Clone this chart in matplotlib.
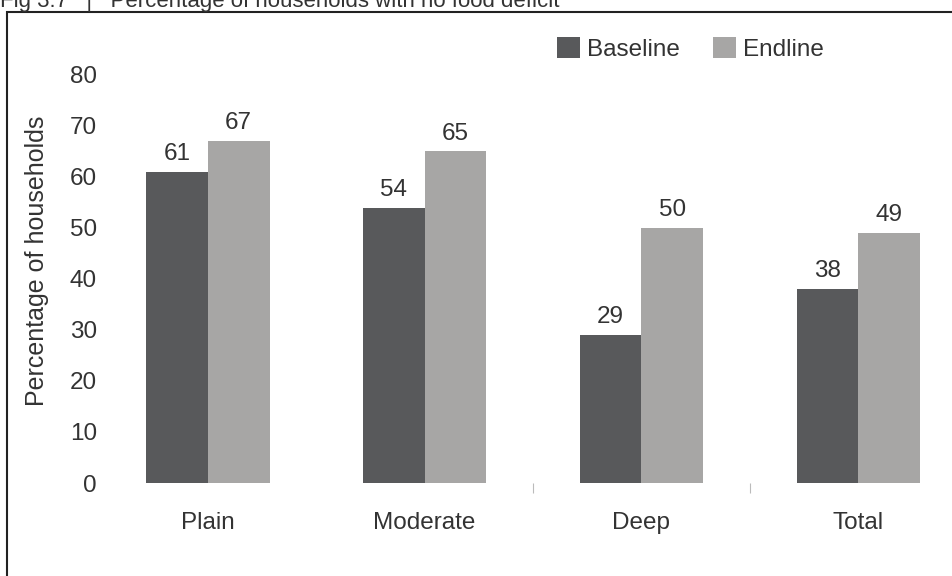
import numpy as np
import matplotlib.pyplot as plt
from matplotlib.patches import Rectangle

categories = ["Plain", "Moderate", "Deep", "Total"]
baseline = [61, 54, 29, 38]
endline = [67, 65, 50, 49]
yticks = [0, 10, 20, 30, 40, 50, 60, 70, 80]

plt.rcParams['font.family'] = ['Liberation Sans', 'DejaVu Sans']
text_color = '#333333'
c_base = '#58595b'
c_end = '#a7a6a5'
fs = 17.5

W, H = 952, 576
fig = plt.figure(figsize=(W/100, H/100), dpi=100)
ax = fig.add_axes([115/W, 1-483/H, (940-115)/W, (483-75)/H])

x = np.arange(len(categories))
bw = 0.284
b1 = ax.bar(x - bw/2, baseline, bw, color=c_base, label='Baseline')
b2 = ax.bar(x + bw/2, endline, bw, color=c_end, label='Endline')

for bars in (b1, b2):
    for r in bars:
        ax.annotate(f"{r.get_height():.0f}", (r.get_x() + r.get_width()/2, r.get_height()),
                    xytext=(0, 5), textcoords='offset points', ha='center', va='bottom',
                    fontsize=fs, color=text_color)

ax.set_xlim(-0.429, 3.378)
ax.set_ylim(0, 80)
ax.set_yticks(yticks)
ax.set_xticks(x)
ax.set_xticklabels(categories)
ax.set_xticks([1.5, 2.5], minor=True)
ax.tick_params(axis='x', which='major', length=0, pad=21, labelsize=fs, labelcolor=text_color)
ax.tick_params(axis='x', which='minor', length=7, width=0.8, color='#bbbbbb', direction='out')
ax.tick_params(axis='y', length=0, pad=13, labelsize=fs, labelcolor=text_color)
for s in ax.spines.values():
    s.set_visible(False)
ax.set_ylabel("Percentage of households", fontsize=fs + 0.5, color=text_color)
ax.yaxis.set_label_coords(-66/825, 0.545)

ax.legend(loc='upper left', bbox_to_anchor=(0.509, 1.147), ncol=2, frameon=False,
          fontsize=fs, handlelength=0.95, handleheight=0.95, handletextpad=0.3,
          columnspacing=1.35, labelcolor=text_color)

# outer frame, partly outside the image
fig.patches.append(Rectangle((7/W, -0.1), 1.2, 1 - 12/H + 0.1, transform=fig.transFigure,
                             fill=False, edgecolor='#222222', linewidth=1.5, clip_on=False))
fig.text(0/W, 1 - 7/H, "Fig 3.7   |   Percentage of households with no food deficit",
         fontsize=16, color=text_color, va='baseline', ha='left')

fig.savefig("out.png", dpi=100)
